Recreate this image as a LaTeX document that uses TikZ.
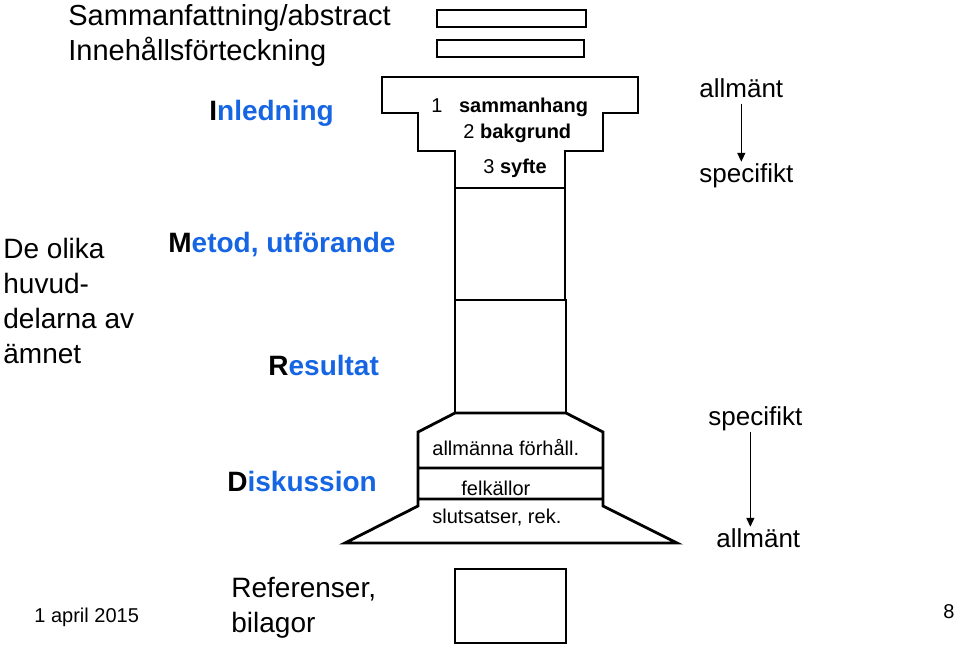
\documentclass[tikz,border=0pt]{standalone}
\usepackage{fontspec}
\setmainfont{Liberation Sans}
\usetikzlibrary{arrows.meta}
\definecolor{partblue}{RGB}{22,102,228}
\tikzset{
  txt/.style = {anchor = base west, inner sep = 0pt, font = \fontsize{#1}{35}\selectfont},
  part/.style = {txt = 28, font = \fontsize{28}{35}\selectfont\bfseries, text = partblue},
  arr/.style = {line width = 1.4pt, -{Triangle[length = 9pt, width = 8pt]}},
}
\begin{document}
\begin{tikzpicture}[x = 1pt, y = -1pt, line join = miter, line width = 2.8pt]
	\useasboundingbox (0,0) rectangle (959,648);
	% column outline
	\path
	(455,188) coordinate (capL)
	(565,188) coordinate (capR)
	(455,413) coordinate (shL)
	(566,413) coordinate (shR)
	;
	\draw (437,10) rectangle (586,27);
	\draw (437,40) rectangle (584,57);
	\draw
	(capL)--(455,151)--(418,151)--(418,113)--(382,113)--(382,77)
	--(638,77)--(638,113)--(603,113)--(603,151)--(565,151)--(capR)--cycle
	;
	\draw
	(capL) rectangle (565,300)
	(455,300) rectangle (shR)
	;
	\draw
	(shL)--(418,432)--(418,506)--(345,543)--(677,543)--(603,506)--(603,432)--(shR)--cycle
	(418,468)--(603,468)
	(418,499)--(603,499)
	;
	\draw (455,569) rectangle (566,643);
	% texts
	\node[txt = 29] (abstract) at (67,25) {Sammanfattning/abstract};
	\node[txt = 29] (toc) at (67,60) {Innehållsförteckning};
	\node[part] (inledning) at (208,120) {\textcolor{black}{I}nledning};
	\node[txt = 20] (cap1) at (430,112) {1\hspace{11pt} \textbf{sammanhang}};
	\node[txt = 20] (cap2) at (462,138) {2 \textbf{bakgrund}};
	\node[txt = 20] (cap3) at (482,173) {3 \textbf{syfte}};
	\node[txt = 26] (genTop) at (698,97) {allmänt};
	\node[txt = 26] (specTop) at (698,182) {specifikt};
	\node[txt = 28, align = left] (olika) at (2,363) {De olika\\huvud-\\delarna av\\ämnet};
	\node[part] (metod) at (167,252) {\textcolor{black}{M}etod, utförande};
	\node[part] (resultat) at (267,375) {\textcolor{black}{R}esultat};
	\node[part] (diskussion) at (226,491) {\textcolor{black}{D}iskussion};
	\node[txt = 28, align = left] (referenser) at (230,632) {Referenser,\\bilagor};
	\node[txt = 20] (datum) at (33,622) {1 april 2015};
	\node[txt = 20, anchor = base east] (sidnr) at (956,618) {8};
	\node[txt = 20] (forhall) at (431,455) {allmänna förhåll.};
	\node[txt = 20] (felkallor) at (460,495) {felkällor};
	\node[txt = 20] (slutsatser) at (431,523) {slutsatser, rek.};
	\node[txt = 26] (specBot) at (707,425) {specifikt};
	\node[txt = 26] (genBot) at (715,547) {allmänt};
	% arrows
	\draw[arr, shorten <= 5pt] (genTop.south) -- (genTop.south |- specTop.north);
	\draw[arr] ([xshift = -5pt]specBot.south) -- ([xshift = -5pt]specBot.south |- genBot.north);
\end{tikzpicture}
\end{document}
